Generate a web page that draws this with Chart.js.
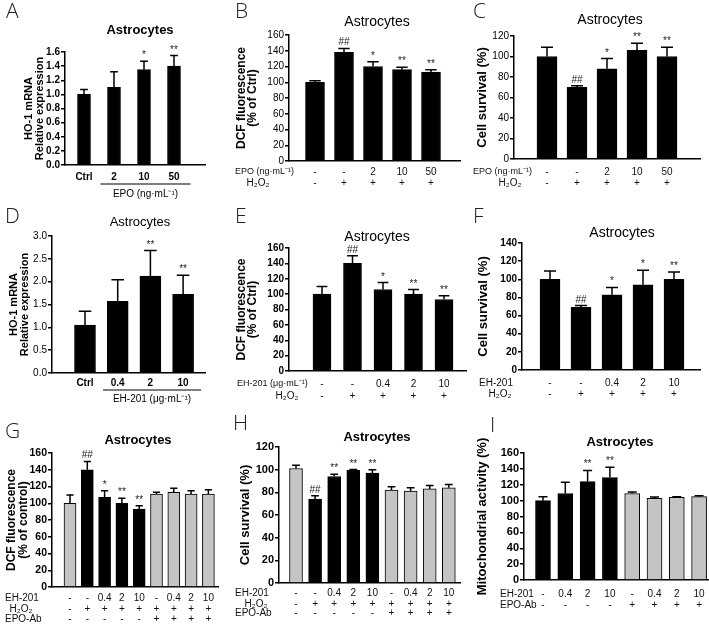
<!DOCTYPE html>
<html>
<head>
<meta charset="utf-8">
<script src="https://cdn.jsdelivr.net/npm/chart.js@4.4.1/dist/chart.umd.min.js"></script>
<style>
  html, body { margin: 0; padding: 0; background: #fff; }
  #fig { position: relative; width: 709px; height: 629px; overflow: hidden; }
  #fig canvas { position: absolute; }
</style>
</head>
<body>
<div id="fig"></div>
<script>
// ---- data ----
const titleText = "Astrocytes";

// A: HO-1 mRNA, EPO
const aLabels = ["Ctrl", "2", "10", "50"];
const aMeans = [1.0, 1.1, 1.35, 1.4];
const aErrors = [0.07, 0.22, 0.12, 0.15];
const aMarks = ["", "", "*", "**"];

// B: DCF fluorescence, EPO + H2O2
const bEpo = ["-", "-", "2", "10", "50"];
const bH2o2 = ["-", "+", "+", "+", "+"];
const bMeans = [100, 138, 120, 116, 113];
const bErrors = [2, 5, 6, 3, 3];
const bMarks = ["", "##", "*", "**", "**"];

// C: cell survival, EPO + H2O2
const cEpo = ["-", "-", "2", "10", "50"];
const cH2o2 = ["-", "+", "+", "+", "+"];
const cMeans = [100, 70, 88, 106, 100];
const cErrors = [9, 1.5, 10, 7, 9];
const cMarks = ["", "##", "*", "**", "**"];

// D: HO-1 mRNA, EH-201
const dLabels = ["Ctrl", "0.4", "2", "10"];
const dMeans = [1.05, 1.57, 2.12, 1.72];
const dErrors = [0.30, 0.47, 0.56, 0.42];
const dMarks = ["", "", "**", "**"];

// E: DCF fluorescence, EH-201 + H2O2
const eEh = ["-", "-", "0.4", "2", "10"];
const eH2o2 = ["-", "+", "+", "+", "+"];
const eMeans = [100, 140, 106, 100, 93];
const eErrors = [10, 10, 9, 6, 5];
const eMarks = ["", "##", "*", "**", "**"];

// F: cell survival, EH-201 + H2O2
const fEh = ["-", "-", "0.4", "2", "10"];
const fH2o2 = ["-", "+", "+", "+", "+"];
const fMeans = [100, 69, 83, 94, 100];
const fErrors = [9, 2, 8, 16, 8];
const fMarks = ["", "##", "*", "*", "**"];

// G: DCF fluorescence with EPO-Ab
const gEh = ["-", "-", "0.4", "2", "10", "-", "0.4", "2", "10"];
const gH2o2 = ["-", "+", "+", "+", "+", "+", "+", "+", "+"];
const gAb = ["-", "-", "-", "-", "-", "+", "+", "+", "+"];
const gMeans = [100, 140, 107, 100, 93, 111, 113, 111, 111];
const gErrors = [10, 10, 8, 6, 4, 2, 5, 4, 5];
const gMarks = ["", "##", "*", "**", "**", "", "", "", ""];

// H: cell survival with EPO-Ab
const hEh = ["-", "-", "0.4", "2", "10", "-", "0.4", "2", "10"];
const hH2o2 = ["-", "+", "+", "+", "+", "+", "+", "+", "+"];
const hAb = ["-", "-", "-", "-", "-", "+", "+", "+", "+"];
const hMeans = [101, 74, 94, 99.5, 97, 82, 81, 83, 84];
const hErrors = [3, 3, 2, 0.6, 3, 3, 3, 3, 3];
const hMarks = ["", "##", "**", "**", "**", "", "", "", ""];

// I: mitochondrial activity with EPO-Ab
const iEh = ["-", "0.4", "2", "10", "-", "0.4", "2", "10"];
const iAb = ["-", "-", "-", "-", "+", "+", "+", "+"];
const iMeans = [100, 109, 124, 129, 109, 103, 104, 105];
const iErrors = [5, 14, 14, 13, 2, 1.5, 1, 1];
const iMarks = ["", "", "**", "**", "", "", "", ""];

// ---- styling / layout ----
const SANS = '"Liberation Sans", Arial, sans-serif';
const BLACK = "#000000";
const GREY = "#c4c4c4";
const EPO_UNIT = "EPO (ng\u00b7mL\u207b\u00b9)";
const EH_UNIT = "EH-201 (\u03bcg\u00b7mL\u207b\u00b9)";

const panels = [
  {
    letter: ["A", 6, 2], box: [0, 0, 230, 205],
    axis: { left: 65, right: 205, top: 52, bottom: 165 }, first: 84, step: 30, barW: 13,
    title: [140, 30, "bold 13px"], yMax: 1.6, yStep: 0.2, dec: 1, tickFont: "bold", tickSize: 10,
    yTitle: ["HO-1 mRNA", "Relative expression"], yFont: 11, yLh: 11, yX: 29,
    means: aMeans, errors: aErrors, marks: aMarks, grey: [],
    cats: { labels: aLabels, y: 177, lineY: 184, caption: EPO_UNIT, capY: 194 }
  },
  {
    letter: ["B", 235, 2], box: [230, 0, 238, 205],
    axis: { left: 289, right: 460, top: 35, bottom: 161 }, first: 315, step: 29, barW: 19,
    title: [377, 22, "14px"], yMax: 160, yStep: 20, dec: 0, tickFont: "normal", tickSize: 10,
    yTitle: ["DCF fluorescence", "(% of Ctrl)"], yFont: 12, yLh: 11, yX: 242,
    means: bMeans, errors: bErrors, marks: bMarks, grey: [],
    rows: [
      { name: EPO_UNIT, size: 9, nx: 235, align: "left", y: 172, values: bEpo },
      { name: "H\u2082O\u2082", size: 10, nx: 258, align: "center", y: 183, values: bH2o2 }
    ]
  },
  {
    letter: ["C", 473, 2], box: [468, 0, 241, 205],
    axis: { left: 514, right: 700, top: 36, bottom: 159 }, first: 547, step: 30, barW: 20,
    title: [610, 20, "14px"], yMax: 120, yStep: 20, dec: 0, tickFont: "normal", tickSize: 10,
    yTitle: ["Cell survival (%)"], yFont: 13, yLh: 13, yX: 482,
    means: cMeans, errors: cErrors, marks: cMarks, grey: [],
    rows: [
      { name: EPO_UNIT, size: 9, nx: 473, align: "left", y: 172, values: cEpo },
      { name: "H\u2082O\u2082", size: 10, nx: 510, align: "center", y: 183, values: cH2o2 }
    ]
  },
  {
    letter: ["D", 5, 207], box: [0, 205, 230, 210],
    axis: { left: 52, right: 205, top: 236, bottom: 373 }, first: 85, step: 32.7, barW: 21,
    title: [140, 222, "13px"], yMax: 3, yStep: 0.5, dec: 1, tickFont: "normal", tickSize: 10,
    yTitle: ["HO-1 mRNA", "Relative expression"], yFont: 11, yLh: 11, yX: 14,
    means: dMeans, errors: dErrors, marks: dMarks, grey: [],
    cats: { labels: dLabels, y: 383, lineY: 390, caption: EH_UNIT, capY: 399 }
  },
  {
    letter: ["E", 235, 207], box: [230, 205, 238, 210],
    axis: { left: 289, right: 466, top: 248, bottom: 371 }, first: 322, step: 30.5, barW: 18,
    title: [377, 237, "14px"], yMax: 160, yStep: 20, dec: 0, tickFont: "bold", tickSize: 10,
    yTitle: ["DCF fluorescence", "(% of Ctrl)"], yFont: 12, yLh: 11, yX: 242,
    means: eMeans, errors: eErrors, marks: eMarks, grey: [],
    rows: [
      { name: EH_UNIT, size: 9, nx: 237, align: "left", y: 384, values: eEh },
      { name: "H\u2082O\u2082", size: 10, nx: 287, align: "center", y: 396, values: eH2o2 }
    ]
  },
  {
    letter: ["F", 473, 207], box: [468, 205, 241, 210],
    axis: { left: 522, right: 700, top: 243, bottom: 370 }, first: 550, step: 31, barW: 20,
    title: [622, 233, "14px"], yMax: 140, yStep: 20, dec: 0, tickFont: "bold", tickSize: 10,
    yTitle: ["Cell survival (%)"], yFont: 13, yLh: 13, yX: 483,
    means: fMeans, errors: fErrors, marks: fMarks, grey: [],
    rows: [
      { name: "EH-201", size: 10, nx: 496, align: "center", y: 383, values: fEh },
      { name: "H\u2082O\u2082", size: 10, nx: 500, align: "center", y: 394, values: fH2o2 }
    ]
  },
  {
    letter: ["G", 5, 422], box: [0, 415, 228, 214],
    axis: { left: 52, right: 218, top: 453, bottom: 587 }, first: 70, step: 17.3, barW: 12,
    title: [138, 440, "bold 13px"], yMax: 160, yStep: 20, dec: 0, tickFont: "bold", tickSize: 10.5,
    yTitle: ["DCF fluorescence", "(% of control)"], yFont: 12, yLh: 12, yX: 12,
    means: gMeans, errors: gErrors, marks: gMarks, grey: [0, 5, 6, 7, 8],
    rows: [
      { name: "EH-201", size: 10, nx: 5, align: "left", y: 598, values: gEh },
      { name: "H\u2082O\u2082", size: 10, nx: 21, align: "center", y: 609, values: gH2o2 },
      { name: "EPO-Ab", size: 10, nx: 5, align: "left", y: 619, values: gAb }
    ]
  },
  {
    letter: ["H", 233, 414], box: [228, 415, 240, 214],
    axis: { left: 279, right: 460, top: 447, bottom: 583 }, first: 296, step: 19.1, barW: 13,
    title: [377, 437, "bold 13px"], yMax: 120, yStep: 20, dec: 0, tickFont: "bold", tickSize: 11,
    yTitle: ["Cell survival (%)"], yFont: 13, yLh: 13, yX: 245,
    means: hMeans, errors: hErrors, marks: hMarks, grey: [0, 5, 6, 7, 8],
    rows: [
      { name: "EH-201", size: 10, nx: 235, align: "left", y: 593, values: hEh },
      { name: "H\u2082O\u2082", size: 10, nx: 256, align: "center", y: 604, values: hH2o2 },
      { name: "EPO-Ab", size: 10, nx: 235, align: "left", y: 613, values: hAb }
    ]
  },
  {
    letter: ["I", 490, 416], box: [468, 415, 241, 214],
    axis: { left: 524, right: 709, top: 453, bottom: 580 }, first: 543, step: 22.3, barW: 15,
    title: [620, 442, "bold 13px"], yMax: 160, yStep: 20, dec: 0, tickFont: "bold", tickSize: 11,
    yTitle: ["Mitochondrial activity (%)"], yFont: 13, yLh: 13, yX: 482,
    means: iMeans, errors: iErrors, marks: iMarks, grey: [4, 5, 6, 7],
    rows: [
      { name: "EH-201", size: 10, nx: 500, align: "left", y: 594, values: iEh },
      { name: "EPO-Ab", size: 10, nx: 500, align: "left", y: 605, values: iAb }
    ]
  }
];

// error bars, significance marks, letters, titles and the condition rows
function makeDecor(p) {
  return {
    id: "decor",
    afterDatasetsDraw(chart) {
      const ctx = chart.ctx;
      const xs = chart.scales.x;
      const ys = chart.scales.y;
      const ox = p.box[0];
      const oy = p.box[1];
      ctx.save();

      // error bars (upper whisker only)
      ctx.strokeStyle = BLACK;
      ctx.lineWidth = 1.5;
      p.means.forEach((m, i) => {
        const x = xs.getPixelForValue(i);
        const y0 = ys.getPixelForValue(m);
        const y1 = ys.getPixelForValue(m + p.errors[i]);
        const cap = p.barW * 0.3;
        ctx.beginPath();
        ctx.moveTo(x, y0);
        ctx.lineTo(x, y1);
        ctx.moveTo(x - cap, y1);
        ctx.lineTo(x + cap, y1);
        ctx.stroke();
        if (p.marks[i]) {
          ctx.font = "10px " + SANS;
          ctx.textAlign = "center";
          ctx.textBaseline = "alphabetic";
          ctx.fillStyle = "#222";
          ctx.fillText(p.marks[i], x, y1 - 3);
        }
      });

      // panel letter
      ctx.fillStyle = "#222";
      ctx.font = '300 21px "Open Sans", ' + SANS;
      ctx.textAlign = "left";
      ctx.textBaseline = "top";
      ctx.fillText(p.letter[0], p.letter[1] - ox, p.letter[2] - oy);

      // title
      ctx.fillStyle = BLACK;
      ctx.font = p.title[2] + " " + SANS;
      ctx.textAlign = "center";
      ctx.textBaseline = "middle";
      ctx.fillText(titleText, p.title[0] - ox, p.title[1] - oy);

      // condition rows under the axis
      if (p.rows) {
        ctx.fillStyle = "#111";
        p.rows.forEach((r) => {
          ctx.font = r.size + "px " + SANS;
          ctx.textAlign = r.align;
          ctx.fillText(r.name, r.nx - ox, r.y - oy);
          ctx.font = "10px " + SANS;
          ctx.textAlign = "center";
          r.values.forEach((v, i) => {
            ctx.fillText(v, xs.getPixelForValue(i), r.y - oy);
          });
        });
      }

      // category labels with a bracket line (A, D)
      if (p.cats) {
        const c = p.cats;
        ctx.font = "bold 10px " + SANS;
        ctx.textAlign = "center";
        c.labels.forEach((v, i) => {
          ctx.fillText(v, xs.getPixelForValue(i), c.y - oy);
        });
        const x1 = xs.getPixelForValue(1) - p.step * 0.45;
        const x2 = xs.getPixelForValue(c.labels.length - 1) + p.step * 0.55;
        ctx.lineWidth = 1.2;
        ctx.beginPath();
        ctx.moveTo(x1, c.lineY - oy);
        ctx.lineTo(x2, c.lineY - oy);
        ctx.stroke();
        ctx.font = "10px " + SANS;
        ctx.fillText(c.caption, (x1 + x2) / 2, c.capY - oy);
      }
      ctx.restore();
    }
  };
}

const fig = document.getElementById("fig");

panels.forEach((p) => {
  const canvas = document.createElement("canvas");
  canvas.width = p.box[2];
  canvas.height = p.box[3];
  canvas.style.left = p.box[0] + "px";
  canvas.style.top = p.box[1] + "px";
  canvas.style.width = p.box[2] + "px";
  canvas.style.height = p.box[3] + "px";
  fig.appendChild(canvas);

  // linear x axis so the bar slots start where the figure's do
  const xMin = -(p.first - p.axis.left) / p.step;
  const xMax = xMin + (p.axis.right - p.axis.left) / p.step;
  const fills = p.means.map((m, i) => (p.grey.includes(i) ? GREY : BLACK));

  new Chart(canvas, {
    type: "bar",
    data: {
      datasets: [
        {
          data: p.means.map((m, i) => ({ x: i, y: m })),
          backgroundColor: fills,
          borderColor: BLACK,
          borderWidth: 1,
          barThickness: p.barW
        }
      ]
    },
    options: {
      responsive: false,
      animation: false,
      devicePixelRatio: 1,
      layout: {
        padding: {
          left: 0,
          top: p.axis.top - p.box[1],
          right: p.box[0] + p.box[2] - p.axis.right,
          bottom: 0
        }
      },
      plugins: {
        legend: { display: false },
        tooltip: { enabled: false },
        title: { display: false }
      },
      scales: {
        x: {
          type: "linear",
          min: xMin,
          max: xMax,
          offset: false,
          bounds: "data",
          grid: { display: false },
          ticks: { display: false },
          border: { color: BLACK, width: 1.5 },
          afterFit: (s) => {
            s.height = p.box[1] + p.box[3] - p.axis.bottom;
          }
        },
        y: {
          min: 0,
          max: p.yMax,
          ticks: {
            stepSize: p.yStep,
            autoSkip: false,
            color: BLACK,
            padding: 1,
            font: { family: SANS, size: p.tickSize, weight: p.tickFont },
            callback: (v) => Number(v).toFixed(p.dec)
          },
          grid: {
            drawOnChartArea: false,
            drawTicks: true,
            tickLength: 4,
            color: BLACK,
            lineWidth: 1.5
          },
          border: { color: BLACK, width: 1.5 },
          title: {
            display: true,
            text: p.yTitle,
            color: BLACK,
            font: { family: SANS, size: p.yFont, weight: "bold", lineHeight: p.yLh + "px" },
            padding: { top: p.yX - p.box[0] - p.yLh / 2, bottom: 0 }
          },
          afterFit: (s) => {
            s.width = p.axis.left - p.box[0];
          }
        }
      }
    },
    plugins: [makeDecor(p)]
  });
});
</script>
</body>
</html>
